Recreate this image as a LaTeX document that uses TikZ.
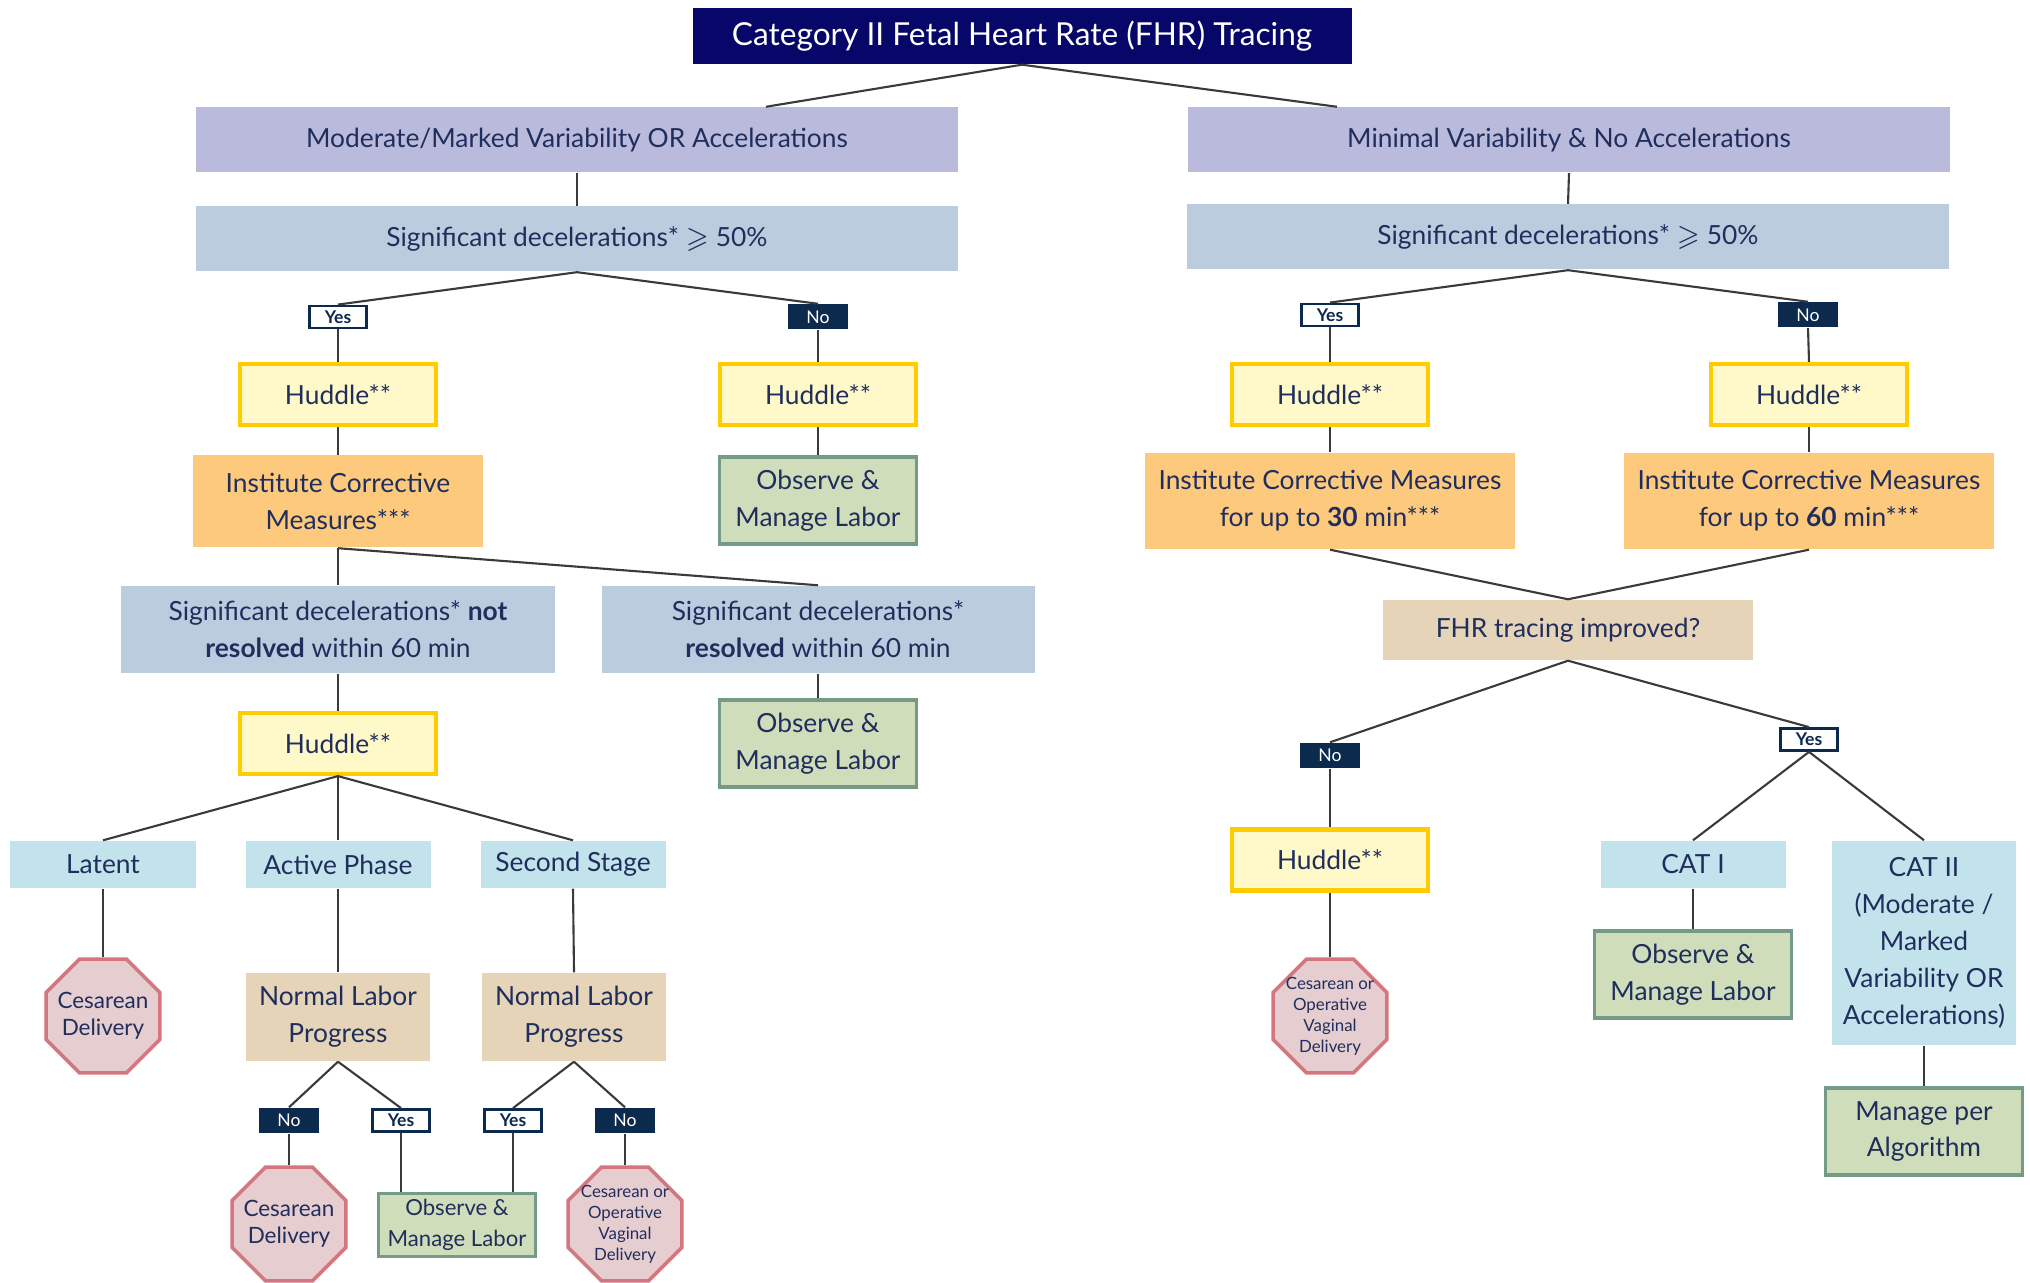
\documentclass[tikz,border=0pt]{standalone}
\usepackage{fontspec}
\setmainfont{Lato}
\usepackage{amssymb}
\usetikzlibrary{shapes.geometric}
\definecolor{hdr}{HTML}{07076A}
\definecolor{ink}{HTML}{1F2E5C}
\definecolor{wire}{HTML}{3A3A3A}
\definecolor{lavender}{HTML}{BABADC}
\definecolor{steel}{HTML}{BCCCDF}
\definecolor{hudfill}{HTML}{FFF8C8}
\definecolor{hudline}{HTML}{FFCC00}
\definecolor{corr}{HTML}{FDC97C}
\definecolor{obsfill}{HTML}{CFDDBA}
\definecolor{obsline}{HTML}{749A88}
\definecolor{stage}{HTML}{C2E3EC}
\definecolor{sand}{HTML}{E6D4B9}
\definecolor{stopfill}{HTML}{E6CDD0}
\definecolor{stopline}{HTML}{D47680}
\definecolor{navy}{HTML}{0C2A4E}

\begin{document}
\begin{tikzpicture}[
    every node/.style={text=ink, align=center, inner sep=0pt, font=\fontsize{7.5}{10.5}\selectfont},
    link/.style={draw=wire, line width=0.6pt},
    header/.style={fill=hdr, text=white, minimum width=6.59cm, minimum height=0.56cm, font=\fontsize{9}{10}\selectfont},
    variab/.style={fill=lavender, minimum width=7.62cm, minimum height=0.65cm},
    decel/.style={fill=steel, minimum width=#1, minimum height=0.65cm},
    huddle/.style={fill=hudfill, draw=hudline, line width=1.2pt, minimum width=1.96cm, minimum height=0.61cm},
    measures/.style={fill=corr, minimum width=#1, minimum height=0.92cm},
    observe/.style={fill=obsfill, draw=obsline, line width=1.1pt, minimum width=1.97cm, minimum height=0.87cm},
    stage/.style={fill=stage, minimum width=1.85cm, minimum height=0.47cm},
    query/.style={fill=sand},
    stopsign/.style={regular polygon, regular polygon sides=8, fill=stopfill, draw=stopline, line width=1pt, minimum size=1.23cm},
    stoptext/.style={font=\fontsize{6.4}{7.8}\selectfont},
    tinytext/.style={font=\fontsize{4.8}{6}\selectfont},
    yesbox/.style={fill=white, draw=navy, line width=0.8pt, text=navy, minimum width=0.57cm, minimum height=0.22cm, font=\fontsize{5}{6}\selectfont\bfseries},
    nobox/.style={fill=navy, text=white, minimum width=0.60cm, minimum height=0.25cm, font=\fontsize{5}{6}\selectfont}
  ]
    \useasboundingbox (0,0) rectangle (20.30,-12.83);

    \node at (10.22, -0.36) (title) [header] {Category II Fetal Heart Rate (FHR) Tracing};
    \node at (5.77, -1.40) (modvar) [variab] {Moderate/Marked Variability OR Accelerations};
    \node at (15.69, -1.40) (minvar) [variab] {Minimal Variability \& No Accelerations};
    \node at (5.77, -2.39) (sigL) [decel=7.62cm] {Significant decelerations* $\geqslant$ 50\%};
    \node at (15.68, -2.37) (sigR) [decel=7.62cm] {Significant decelerations* $\geqslant$ 50\%};

    \node at (3.38, -3.17) (yesL) [yesbox] {Yes};
    \node at (8.18, -3.17) (noL) [nobox] {No};
    \node at (13.30, -3.15) (yesR) [yesbox] {Yes};
    \node at (18.08, -3.15) (noR) [nobox] {No};

    \node at (3.38, -3.945) (hudA) [huddle] {Huddle**};
    \node at (8.18, -3.945) (hudB) [huddle] {Huddle**};
    \node at (13.30, -3.945) (hudC) [huddle] {Huddle**};
    \node at (18.09, -3.945) (hudD) [huddle] {Huddle**};

    \node at (3.38, -5.015) (corrL) [measures=2.90cm] {Institute Corrective\\Measures***};
    \node at (8.18, -5.005) (obsA) [observe] {Observe \&\\Manage Labor};
    \node at (13.30, -5.01) (corr30) [measures=3.70cm, minimum height=0.96cm] {Institute Corrective Measures\\for up to \textbf{30} min***};
    \node at (18.09, -5.01) (corr60) [measures=3.70cm, minimum height=0.96cm] {Institute Corrective Measures\\for up to \textbf{60} min***};

    \node at (3.38, -6.295) (notres) [decel=4.34cm, minimum height=0.87cm] {Significant decelerations* \textbf{not}\\\textbf{resolved} within 60 min};
    \node at (8.18, -6.295) (res) [decel=4.33cm, minimum height=0.87cm] {Significant decelerations*\\\textbf{resolved} within 60 min};
    \node at (15.68, -6.30) (improved) [query, minimum width=3.70cm, minimum height=0.60cm] {FHR tracing improved?};

    \node at (3.38, -7.435) (hudE) [huddle] {Huddle**};
    \node at (8.18, -7.435) (obsB) [observe] {Observe \&\\Manage Labor};
    \node at (13.30, -7.555) (noF) [nobox] {No};
    \node at (18.09, -7.395) (yesF) [yesbox] {Yes};

    \node at (1.03, -8.645) (latent) [stage] {Latent};
    \node at (3.38, -8.645) (active) [stage] {Active Phase};
    \node at (5.73, -8.645) (second) [stage] {Second Stage};
    \node at (13.30, -8.60) (hudF) [huddle] {Huddle**};
    \node at (16.93, -8.645) (cat1) [stage] {CAT I};
    \node at (19.24, -9.43) (cat2) [stage, minimum width=1.84cm, minimum height=2.04cm] {CAT II\\(Moderate /\\Marked\\Variability OR\\Accelerations)};

    \node at (1.03, -10.16) (cesA) [stopsign, label={[stoptext]center:{Cesarean\\Delivery}}] {};
    \node at (3.38, -10.17) (progA) [query, minimum width=1.84cm, minimum height=0.88cm] {Normal Labor\\Progress};
    \node at (5.74, -10.17) (progB) [query, minimum width=1.84cm, minimum height=0.88cm] {Normal Labor\\Progress};
    \node at (13.30, -10.16) (cesF) [stopsign, label={[tinytext]center:{Cesarean or\\Operative\\Vaginal\\Delivery}}] {};
    \node at (16.93, -9.745) (obsC) [observe] {Observe \&\\Manage Labor};
    \node at (19.24, -11.315) (algo) [observe] {Manage per\\Algorithm};

    \node at (2.89, -11.205) (noA) [nobox] {No};
    \node at (4.01, -11.205) (yesA) [yesbox] {Yes};
    \node at (5.13, -11.205) (yesB) [yesbox] {Yes};
    \node at (6.25, -11.205) (noB) [nobox] {No};

    \node at (2.89, -12.24) (cesB) [stopsign, label={[stoptext]center:{Cesarean\\Delivery}}] {};
    \node at (4.57, -12.25) (obsD) [observe, line width=0.8pt, minimum width=1.57cm, minimum height=0.63cm, font=\fontsize{6.3}{8.8}\selectfont] {Observe \&\\Manage Labor};
    \node at (6.25, -12.24) (cesC) [stopsign, label={[tinytext]center:{Cesarean or\\Operative\\Vaginal\\Delivery}}] {};

    \draw[link] (title.south) -- ([xshift=1.89cm]modvar.north);
    \draw[link] (title.south) -- ([xshift=-2.32cm]minvar.north);
    \draw[link] (modvar.south) -- (sigL.north);
    \draw[link] (minvar.south) -- (sigR.north);
    \draw[link] (sigL.south) -- (yesL.north);
    \draw[link] (sigL.south) -- (noL.north);
    \draw[link] (sigR.south) -- (yesR.north);
    \draw[link] (sigR.south) -- (noR.north);
    \draw[link] (yesL.south) -- (hudA.north);
    \draw[link] (noL.south) -- (hudB.north);
    \draw[link] (yesR.south) -- (hudC.north);
    \draw[link] (noR.south) -- (hudD.north);
    \draw[link] (hudA.south) -- (corrL.north);
    \draw[link] (hudB.south) -- (obsA.north);
    \draw[link] (hudC.south) -- (corr30.north);
    \draw[link] (hudD.south) -- (corr60.north);
    \draw[link] (corrL.south) -- (notres.north);
    \draw[link] (corrL.south) -- (res.north);
    \draw[link] (corr30.south) -- (improved.north);
    \draw[link] (corr60.south) -- (improved.north);
    \draw[link] (notres.south) -- (hudE.north);
    \draw[link] (res.south) -- (obsB.north);
    \draw[link] (improved.south) -- (noF.north);
    \draw[link] (improved.south) -- (yesF.north);
    \draw[link] (hudE.south) -- (latent.north);
    \draw[link] (hudE.south) -- (active.north);
    \draw[link] (hudE.south) -- (second.north);
    \draw[link] (noF.south) -- (hudF.north);
    \draw[link] (yesF.south) -- (cat1.north);
    \draw[link] (yesF.south) -- (cat2.north);
    \draw[link] (latent.south) -- (cesA.north);
    \draw[link] (active.south) -- (progA.north);
    \draw[link] (second.south) -- (progB.north);
    \draw[link] (hudF.south) -- (cesF.north);
    \draw[link] (cat1.south) -- (obsC.north);
    \draw[link] (cat2.south) -- (algo.north);
    \draw[link] (progA.south) -- (noA.north);
    \draw[link] (progA.south) -- (yesA.north);
    \draw[link] (progB.south) -- (yesB.north);
    \draw[link] (progB.south) -- (noB.north);
    \draw[link] (noA.south) -- (cesB.north);
    \draw[link] (yesA.south) -- (yesA.south |- obsD.north);
    \draw[link] (yesB.south) -- (yesB.south |- obsD.north);
    \draw[link] (noB.south) -- (cesC.north);
\end{tikzpicture}
\end{document}
